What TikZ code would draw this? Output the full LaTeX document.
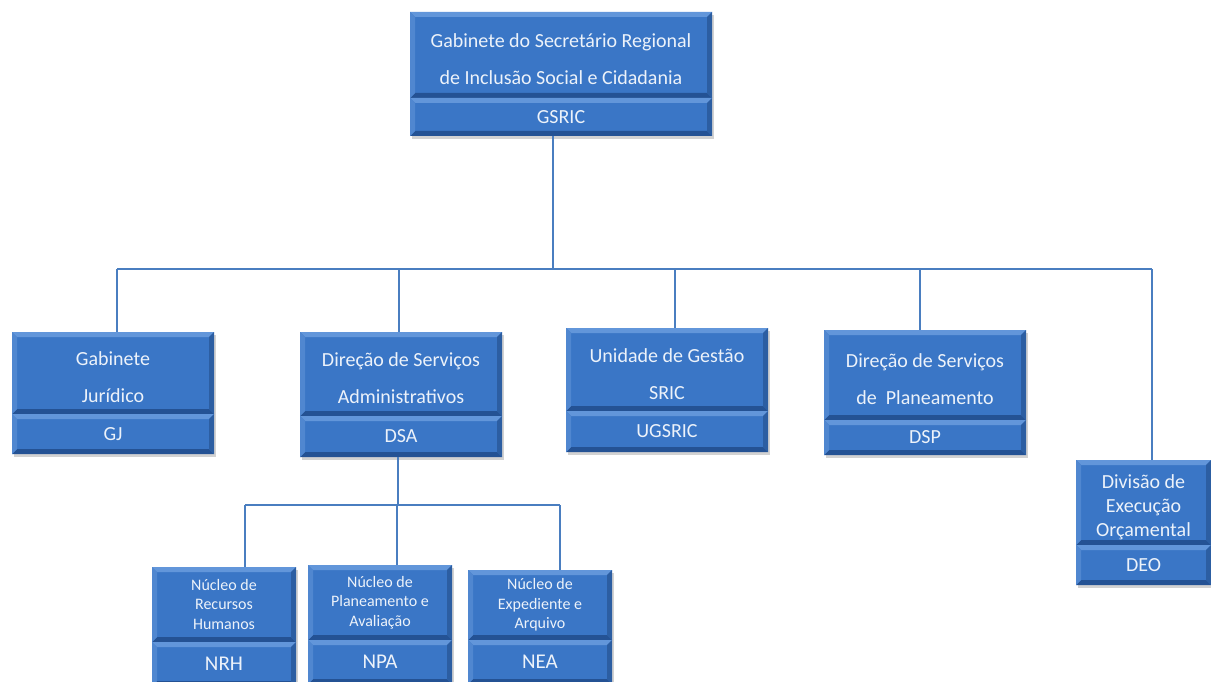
\documentclass[tikz,border=0pt]{standalone}
\usepackage{fontspec}
\setmainfont{Carlito}
\usetikzlibrary{shadows}
\definecolor{boxblue}{RGB}{58,118,198}
\definecolor{bevtop}{RGB}{98,150,218}
\definecolor{bevleft}{RGB}{80,135,208}
\definecolor{bevbot}{RGB}{36,82,148}
\definecolor{bevright}{RGB}{44,94,162}
\definecolor{boxtext}{RGB}{236,242,250}
\definecolor{linkblue}{RGB}{74,126,192}
\newcommand\tstrut{\rule{0pt}{23pt}}
\tikzset{
  box/.style={rectangle, fill=boxblue, inner sep=0pt, text=boxtext, align=center,
    drop shadow={shadow xshift=2pt,shadow yshift=-3pt,opacity=0.35},
    path picture={
      \fill[bevtop] (path picture bounding box.north west) -- (path picture bounding box.north east)
        -- ([shift={(-5pt,-5pt)}]path picture bounding box.north east) -- ([shift={(5pt,-5pt)}]path picture bounding box.north west) -- cycle;
      \fill[bevbot] (path picture bounding box.south west) -- (path picture bounding box.south east)
        -- ([shift={(-5pt,5pt)}]path picture bounding box.south east) -- ([shift={(5pt,5pt)}]path picture bounding box.south west) -- cycle;
      \fill[bevleft] (path picture bounding box.north west) -- ([shift={(5pt,-5pt)}]path picture bounding box.north west)
        -- ([shift={(5pt,5pt)}]path picture bounding box.south west) -- (path picture bounding box.south west) -- cycle;
      \fill[bevright] (path picture bounding box.north east) -- ([shift={(-5pt,-5pt)}]path picture bounding box.north east)
        -- ([shift={(-5pt,5pt)}]path picture bounding box.south east) -- (path picture bounding box.south east) -- cycle;
    }},
  big/.style={box, font=\fontsize{20}{37}\selectfont},
  deo/.style={box, font=\fontsize{20}{24}\selectfont},
  small/.style={box, font=\fontsize{16}{19.5}\selectfont},
  smallbar/.style={box, font=\fontsize{21}{24}\selectfont},
  link/.style={draw=linkblue, line width=2.8pt},
}
\begin{document}
\begin{tikzpicture}[x=1pt,y=-1pt]
\useasboundingbox[fill=white] (0,0) rectangle (1211,682);
% connectors
\coordinate (busL) at (117,269);
\coordinate (busR) at (1152,269);
\coordinate (subL) at (245,505);
\coordinate (subR) at (560,505);
% top
\node[big, minimum width=302pt, minimum height=86pt] (gsric) at (561,55) {\tstrut Gabinete do Secretário Regional\\de Inclusão Social e Cidadania};
\node[big, minimum width=302pt, minimum height=38pt] (gsricB) at (561,117) {GSRIC};
% level 1
\node[big, minimum width=202pt, minimum height=82pt] (gj) at (113,373) {\tstrut Gabinete\\Jurídico};
\node[big, minimum width=202pt, minimum height=40pt] (gjB) at (113,434) {GJ};
\node[big, minimum width=202pt, minimum height=84pt] (dsa) at (401,374) {\tstrut Direção de Serviços\\Administrativos};
\node[big, minimum width=202pt, minimum height=41pt] (dsaB) at (401,436.5) {DSA};
\node[big, minimum width=202pt, minimum height=83pt] (ug) at (667,369.5) {\tstrut Unidade de Gestão\\SRIC};
\node[big, minimum width=202pt, minimum height=41pt] (ugB) at (667,431.5) {UGSRIC};
\node[big, minimum width=202pt, minimum height=90pt] (dsp) at (925,375) {\tstrut Direção de Serviços\\de~ Planeamento};
\node[big, minimum width=202pt, minimum height=35pt] (dspB) at (925,437.5) {DSP};
\node[deo, minimum width=135pt, minimum height=85pt] (deo) at (1143.5,502.5) {\tstrut Divisão de\\Execução\\Orçamental};
\node[big, minimum width=135pt, minimum height=40pt] (deoB) at (1143.5,565) {DEO};
% level 2
\node[small, minimum width=144pt, minimum height=75pt] (nrh) at (224,604.5) {Núcleo de\\Recursos\\Humanos};
\node[smallbar, minimum width=144pt, minimum height=44pt] (nrhB) at (224,664) {NRH};
\node[small, minimum width=144pt, minimum height=75pt] (npa) at (380,602.5) {Núcleo de\\Planeamento e\\Avaliação};
\node[smallbar, minimum width=144pt, minimum height=44pt] (npaB) at (380,662) {NPA};
\node[small, minimum width=144pt, minimum height=70pt] (nea) at (540,605) {Núcleo de\\Expediente e\\Arquivo};
\node[smallbar, minimum width=144pt, minimum height=44pt] (neaB) at (540,662) {NEA};
% links
\draw[link] ([xshift=-8pt]gsricB.south) -- ([xshift=-8pt]gsricB.south |- busL);
\draw[link] (busL) -- (busR);
\draw[link] (busL) -- ([xshift=4pt]gj.north);
\draw[link] ([xshift=-2pt]dsa.north |- busL) -- ([xshift=-2pt]dsa.north);
\draw[link] ([xshift=8pt]ug.north |- busL) -- ([xshift=8pt]ug.north);
\draw[link] ([xshift=-5pt]dsp.north |- busL) -- ([xshift=-5pt]dsp.north);
\draw[link] (busR) -- ([xshift=8.5pt]deo.north);
\draw[link] ([xshift=-3pt]dsaB.south) -- ([xshift=-3pt]dsaB.south |- subL);
\draw[link] (subL) -- (subR);
\draw[link] (subL) -- ([xshift=21pt]nrh.north);
\draw[link] ([xshift=17pt]npa.north |- subL) -- ([xshift=17pt]npa.north);
\draw[link] (subR) -- ([xshift=20pt]nea.north);
\end{tikzpicture}
\end{document}
